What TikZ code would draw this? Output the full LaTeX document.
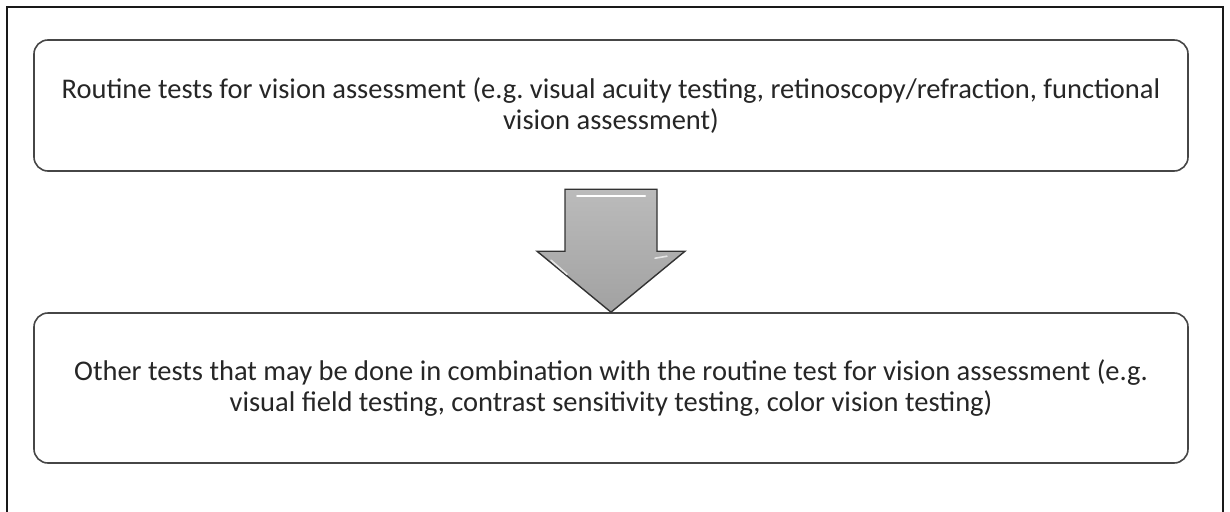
\documentclass[tikz,border=0pt]{standalone}
\usepackage{fontspec}
\setmainfont{Carlito}
\usetikzlibrary{positioning, calc}
\definecolor{boxline}{RGB}{70, 70, 70}
\definecolor{arrowgray}{RGB}{170, 170, 170}

\tikzset{
  testbox/.style={draw=boxline, line width=1.6pt, rounded corners=14pt, minimum width=1154pt, align=center, font=\fontsize{28.5}{31}\selectfont, text=black!85},
}

\begin{document}
\begin{tikzpicture}[x=1pt, y=-1pt]
        \useasboundingbox (0,0) rectangle (1230,511);
        % Outer frame
        \draw[line width=2pt, black!90] (7,515) -- (7,7) -- (1223,7) -- (1223,515);
        % Routine tests
        \node[testbox, minimum height=131pt] (routine) at (611,105.5) {Routine tests for vision assessment (e.g.\ visual acuity testing, retinoscopy/refraction, functional\\vision assessment)};
        % Other tests
        \node[testbox, minimum height=150pt] (other) at (611,388) {Other tests that may be done in combination with the routine test for vision assessment (e.g.\\visual field testing, contrast sensitivity testing, color vision testing)};
        
        % Block arrow
        \coordinate (tip) at (other.north);
        \draw[line width=1.4pt, draw=black!80, top color=arrowgray!80, bottom color=arrowgray!110, line join=miter]
            ($(tip)+(-46,-123)$) -- ($(tip)+(46,-123)$) -- ($(tip)+(46,-61)$) -- ($(tip)+(74,-61)$)
            -- (tip) -- ($(tip)+(-74,-61)$) -- ($(tip)+(-46,-61)$) -- cycle;
        % Highlights
        \draw[white, line width=2pt, line cap=round] ($(tip)+(-34,-116)$) -- ($(tip)+(34,-116)$);
        \draw[white!80!gray, line width=1.6pt, line cap=round] ($(tip)+(-60,-52)$) -- ($(tip)+(-44,-38)$);
        \draw[white!80!gray, line width=1.6pt, line cap=round] ($(tip)+(44,-54)$) -- ($(tip)+(56,-56)$);
    \end{tikzpicture}
\end{document}
